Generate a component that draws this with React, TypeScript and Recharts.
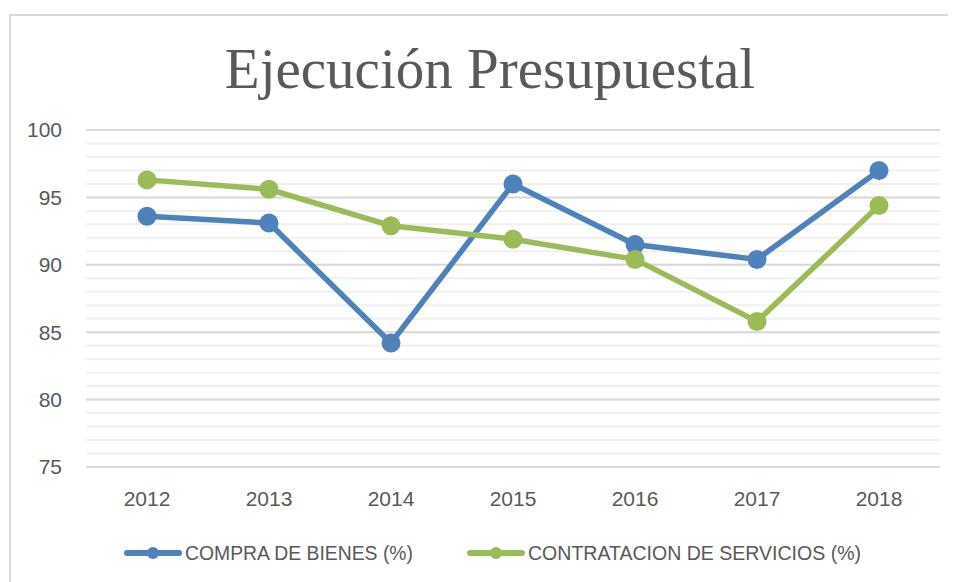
import { LineChart, Line, XAxis, YAxis, CartesianGrid, Legend } from "recharts";

const years = ["2012", "2013", "2014", "2015", "2016", "2017", "2018"];
const compraBienes = [93.6, 93.1, 84.2, 96.0, 91.5, 90.4, 97.0];
const contratacionServicios = [96.3, 95.6, 92.9, 91.9, 90.4, 85.8, 94.4];
const minorTicks = [75, 76, 77, 78, 79, 80, 81, 82, 83, 84, 85, 86, 87, 88, 89, 90, 91, 92, 93, 94, 95, 96, 97, 98, 99, 100];
const majorTicks = [75, 80, 85, 90, 95, 100];

const chartData = years.map((year, i) => ({
  year,
  compra: compraBienes[i],
  contratacion: contratacionServicios[i],
}));

const BLUE = "#4f81bd";
const GREEN = "#9bbb59";
const TEXT = "#595959";
const FONT = "Liberation Sans, Arial, sans-serif";

function LegendContent({ payload }: any) {
  const starts = [116, 459];
  const textWidths = [228, 333];
  return (
    <svg width={948} height={30}>
      {(payload || []).map((p: any, i: number) => {
        const x = starts[i];
        return (
          <g key={p.value}>
            <line x1={x + 3} x2={x + 55} y1={15} y2={15} stroke={p.color} strokeWidth={6} strokeLinecap="round" />
            <circle cx={x + 29} cy={15} r={6} fill={p.color} />
            <text
              x={x + 61}
              y={22}
              fill={TEXT}
              fontSize={19.5}
              fontFamily={FONT}
              textLength={textWidths[i]}
              lengthAdjust="spacingAndGlyphs"
            >
              {p.value}
            </text>
          </g>
        );
      })}
    </svg>
  );
}

export default function App() {
  return (
    <div style={{ position: "relative", width: 948, height: 574 }}>
      <div
        style={{
          position: "absolute",
          left: 1,
          top: 6,
          width: 960,
          height: 580,
          borderTop: "2px solid #d9d9d9",
          borderLeft: "2px solid #d9d9d9",
        }}
      />
      <div
        style={{
          position: "absolute",
          left: 0,
          top: 32,
          width: 964,
          textAlign: "center",
          fontFamily: "Liberation Serif, serif",
          fontSize: 57,
          lineHeight: "57px",
          color: TEXT,
        }}
      >
        Ejecución Presupuestal
      </div>
      <div style={{ position: "absolute", left: 0, top: 0 }}>
        <LineChart
          width={948}
          height={574}
          data={chartData}
          margin={{ top: 122, right: 16, bottom: 75, left: 0 }}
        >
          <CartesianGrid vertical={false} horizontalValues={minorTicks} stroke="#f0f0f0" strokeWidth={2} />
          <CartesianGrid vertical={false} horizontalValues={majorTicks} stroke="#d9d9d9" strokeWidth={2} />
          <XAxis
            dataKey="year"
            axisLine={false}
            tickLine={false}
            tickSize={0}
            tickMargin={24}
            height={40}
            padding={{ left: 61, right: 61 }}
            tick={{ fill: TEXT, fontSize: 21, fontFamily: FONT }}
          />
          <YAxis
            domain={[75, 100]}
            ticks={minorTicks}
            interval={0}
            axisLine={false}
            tickLine={false}
            tickSize={0}
            tickMargin={24}
            width={78}
            tickFormatter={(v: number) => (v % 5 === 0 ? String(v) : "")}
            tick={{ fill: TEXT, fontSize: 21, fontFamily: FONT }}
          />
          <Legend
            layout="horizontal"
            verticalAlign="middle"
            align="center"
            content={<LegendContent />}
            wrapperStyle={{ position: "absolute", left: 0, top: 530, width: 948, height: 30 }}
          />
          <Line
            dataKey="compra"
            name="COMPRA DE BIENES (%)"
            stroke={BLUE}
            strokeWidth={5.5}
            dot={{ r: 9.5, fill: BLUE, stroke: BLUE, strokeWidth: 0 }}
            activeDot={false}
            isAnimationActive={false}
          />
          <Line
            dataKey="contratacion"
            name="CONTRATACION DE SERVICIOS (%)"
            stroke={GREEN}
            strokeWidth={5.5}
            dot={{ r: 9.5, fill: GREEN, stroke: GREEN, strokeWidth: 0 }}
            activeDot={false}
            isAnimationActive={false}
          />
        </LineChart>
      </div>
    </div>
  );
}
